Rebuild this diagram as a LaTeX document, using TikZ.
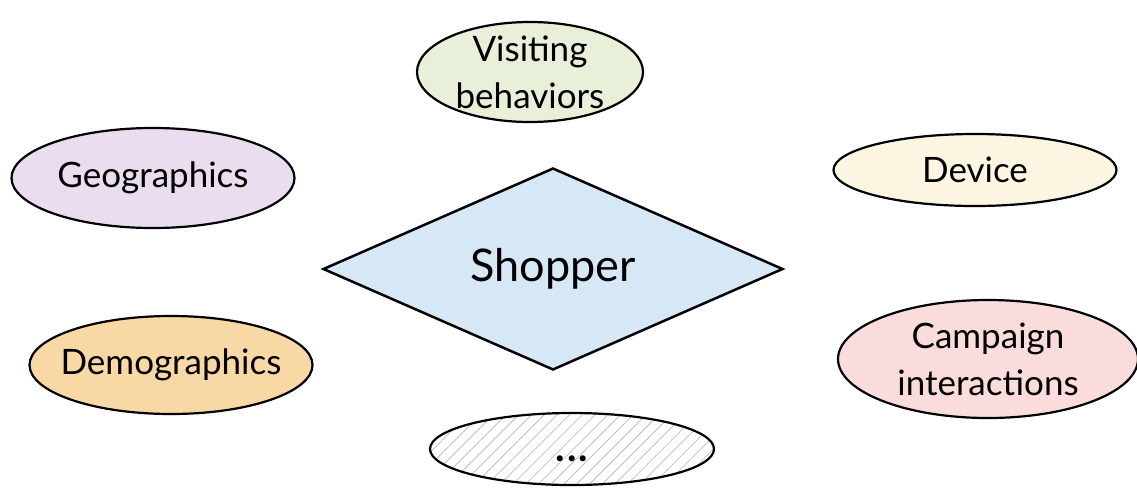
\documentclass[tikz,border=0pt]{standalone}
\usepackage{fontspec}
\setmainfont{Lato}
\usetikzlibrary{shapes.geometric,patterns.meta}
\definecolor{cVisit}{HTML}{E8F0DA}
\definecolor{cGeo}{HTML}{EADDF0}
\definecolor{cDev}{HTML}{FBF5E1}
\definecolor{cDemo}{HTML}{F8D8A5}
\definecolor{cCamp}{HTML}{F9DCDB}
\definecolor{cShop}{HTML}{D6E8F6}
\tikzset{
  blob/.style={ellipse, draw=black, line width=2.2pt, inner xsep=-45pt, inner ysep=-18pt, align=center,
    font=\fontsize{35}{47}\selectfont},
  centre/.style={diamond, draw=black, line width=2.5pt, fill=cShop, inner sep=0pt,
    minimum width=460pt, minimum height=202pt, shape aspect=2.28,
    font=\fontsize{45}{54}\selectfont}
}
\begin{document}
\begin{tikzpicture}[x=1pt,y=-1pt]
\path[use as bounding box, fill=white] (0,0) rectangle (1137,488);
\node[blob, fill=cVisit, minimum width=226pt, minimum height=100pt] (visit) at (530,72) {Visiting\\behaviors};
\node[blob, fill=cGeo, minimum width=283pt, minimum height=100pt] (geo) at (153,178) {Geographics};
\node[blob, fill=cDev, minimum width=283pt, minimum height=72pt] (dev) at (975,170) {Device};
\node[blob, fill=cDemo, minimum width=283pt, minimum height=98pt] (demo) at (171,365) {Demographics};
\node[blob, fill=cCamp, minimum width=300pt, minimum height=118pt] (camp) at (988,359) {Campaign\\interactions};
\node[blob, pattern={Lines[angle=45,distance=9pt,line width=0.8pt]}, pattern color=black!25,
  minimum width=284pt, minimum height=72pt, text height=26pt, text depth=2pt,
  font=\fontsize{40}{47}\selectfont\bfseries] (more) at (572,449) {.\kern2pt.\kern2pt.};
\node[centre] (shop) at (553,269) {Shopper};
\end{tikzpicture}
\end{document}
